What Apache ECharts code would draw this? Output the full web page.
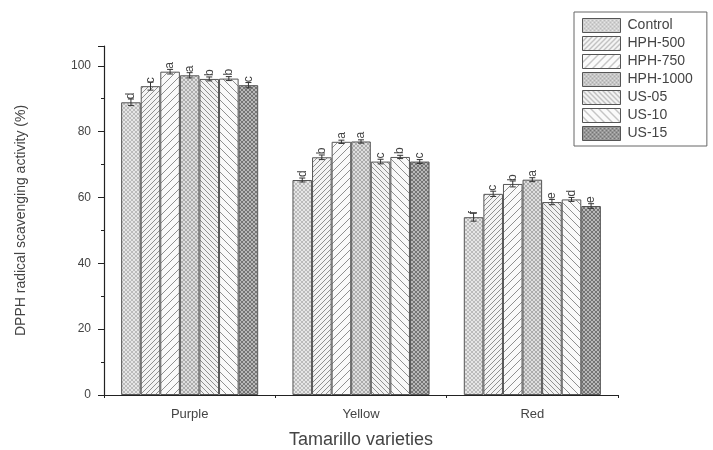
<!DOCTYPE html>
<html>
<head>
<meta charset="utf-8">
<script src="https://cdn.jsdelivr.net/npm/echarts@6/dist/echarts.min.js"></script>
<style>
  html, body { margin: 0; padding: 0; background: #fff; }
  #chart { width: 713px; height: 450px; }
</style>
</head>
<body>
<div id="chart"></div>
<script>
// Tamarillo varieties and treatments
const categories = ['Purple', 'Yellow', 'Red'];
const treatments = ['Control', 'HPH-500', 'HPH-750', 'HPH-1000', 'US-05', 'US-10', 'US-15'];

// DPPH radical scavenging activity (%) per treatment, in category order
const control = [88.9, 65.3, 54.0];
const hph500 = [93.8, 72.2, 61.1];
const hph750 = [98.2, 76.9, 64.1];
const hph1000 = [97.1, 77.0, 65.4];
const us05 = [96.0, 70.9, 58.6];
const us10 = [96.1, 72.3, 59.4];
const us15 = [94.1, 70.9, 57.4];

// standard deviations
const errControl = [1.0, 0.6, 1.2];
const errHph500 = [1.2, 0.7, 0.8];
const errHph750 = [0.7, 0.5, 0.9];
const errHph1000 = [0.8, 0.5, 0.6];
const errUs05 = [0.6, 0.7, 0.8];
const errUs10 = [0.6, 0.5, 0.6];
const errUs15 = [0.8, 0.6, 0.7];

// significance letters
const lettersControl = ['d', 'd', 'f'];
const lettersHph500 = ['c', 'b', 'c'];
const lettersHph750 = ['a', 'a', 'b'];
const lettersHph1000 = ['a', 'a', 'a'];
const lettersUs05 = ['b', 'c', 'e'];
const lettersUs10 = ['b', 'b', 'd'];
const lettersUs15 = ['c', 'c', 'e'];

const yTicks = [0, 20, 40, 60, 80, 100];

const values = [control, hph500, hph750, hph1000, us05, us10, us15];
const errors = [errControl, errHph500, errHph750, errHph1000, errUs05, errUs10, errUs15];
const letters = [lettersControl, lettersHph500, lettersHph750, lettersHph1000, lettersUs05, lettersUs10, lettersUs15];

// hatch fills
function makePattern(kind) {
  const c = document.createElement('canvas');
  const s = kind.size;
  c.width = s; c.height = s;
  const g = c.getContext('2d');
  g.fillStyle = kind.bg;
  g.fillRect(0, 0, s, s);
  g.strokeStyle = kind.fg;
  g.lineWidth = kind.lw;
  const drawDiag = (dir) => {
    g.beginPath();
    for (let k = -1; k <= 1; k++) {
      if (dir > 0) { // "/"
        g.moveTo(k * s, s); g.lineTo(k * s + s, 0);
      } else {      // "\"
        g.moveTo(k * s, 0); g.lineTo(k * s + s, s);
      }
    }
    g.stroke();
  };
  if (kind.type === 'fwd') drawDiag(1);
  if (kind.type === 'back') drawDiag(-1);
  if (kind.type === 'cross') { drawDiag(1); drawDiag(-1); }
  return { image: c, repeat: 'repeat' };
}

const patterns = [
  makePattern({ type: 'cross', size: 4, bg: '#e6e6e6', fg: '#b0b0b0', lw: 0.8 }),
  makePattern({ type: 'fwd', size: 5, bg: '#f4f4f4', fg: '#909090', lw: 1 }),
  makePattern({ type: 'fwd', size: 8, bg: '#fafafa', fg: '#909090', lw: 1 }),
  makePattern({ type: 'cross', size: 4, bg: '#dedede', fg: '#a0a0a0', lw: 0.8 }),
  makePattern({ type: 'back', size: 5, bg: '#f2f2f2', fg: '#909090', lw: 1 }),
  makePattern({ type: 'back', size: 8, bg: '#fafafa', fg: '#909090', lw: 1 }),
  makePattern({ type: 'cross', size: 4, bg: '#b8b8b8', fg: '#747474', lw: 1 })
];

const FONT = 'Liberation Sans, Arial, sans-serif';
const nSeries = treatments.length;
const groupFrac = 0.8;

const series = [];
treatments.forEach((name, i) => {
  series.push({
    name: name,
    type: 'bar',
    barGap: '0%',
    barCategoryGap: '20%',
    data: values[i],
    itemStyle: { color: patterns[i], borderColor: '#555', borderWidth: 1 },
    label: {
      show: true,
      position: 'top',
      distance: 3,
      rotate: 90,
      align: 'left',
      verticalAlign: 'middle',
      color: '#444',
      fontFamily: FONT,
      fontSize: 12,
      formatter: (p) => letters[i][p.dataIndex]
    },
    z: 2
  });
});

// error bars drawn at the centre of each bar slot
treatments.forEach((name, i) => {
  series.push({
    type: 'custom',
    name: name + ' error',
    silent: true,
    z: 3,
    data: values[i].map((v, j) => [j, v, errors[i][j]]),
    renderItem: function (params, api) {
      const j = api.value(0);
      const v = api.value(1);
      const e = api.value(2);
      const band = api.size([1, 0])[0];
      const base = api.coord([j, v]);
      const barW = band * groupFrac / nSeries;
      const x = base[0] - band * groupFrac / 2 + (i + 0.5) * barW;
      const top = api.coord([j, v + e])[1];
      const bot = api.coord([j, v - e])[1];
      const cap = 3;
      const style = { stroke: '#333', lineWidth: 1 };
      return {
        type: 'group',
        children: [
          { type: 'line', shape: { x1: x, y1: top, x2: x, y2: bot }, style: style },
          { type: 'line', shape: { x1: x - cap, y1: top, x2: x + cap, y2: top }, style: style },
          { type: 'line', shape: { x1: x - cap, y1: bot, x2: x + cap, y2: bot }, style: style }
        ]
      };
    }
  });
});

const chart = echarts.init(document.getElementById('chart'), null, { renderer: 'canvas' });
chart.setOption({
  animation: false,
  backgroundColor: '#fff',
  textStyle: { fontFamily: FONT },
  grid: { left: 104, right: 95, top: 46, bottom: 55, containLabel: false, outerBoundsMode: 'none' },
  legend: {
    data: treatments,
    icon: 'rect',
    orient: 'vertical',
    left: 574,
    top: 12,
    itemWidth: 38,
    itemHeight: 14,
    itemGap: 3,
    padding: [6, 14, 5, 8],
    borderColor: '#666',
    borderWidth: 1,
    textStyle: { color: '#444', fontSize: 14, fontFamily: FONT, padding: [0, 0, 0, 2] },
    itemStyle: { borderColor: '#555', borderWidth: 1 }
  },
  xAxis: [
    {
      type: 'category',
      data: categories,
      name: 'Tamarillo varieties',
      nameLocation: 'middle',
      nameGap: 36,
      nameTextStyle: { fontSize: 18, color: '#444', fontFamily: FONT },
      axisLine: { lineStyle: { color: '#222', width: 1.2 } },
      axisTick: { alignWithLabel: true, length: 6, lineStyle: { color: '#222' } },
      axisLabel: { color: '#444', fontSize: 13, margin: 13, fontFamily: FONT }
    },
    {
      type: 'category',
      data: categories,
      position: 'bottom',
      axisLine: { show: false },
      axisTick: { show: true, length: 3, lineStyle: { color: '#222' } },
      axisLabel: { show: false }
    }
  ],
  yAxis: {
    type: 'value',
    min: 0,
    max: 106,
    interval: 20,
    name: 'DPPH radical scavenging activity (%)',
    nameLocation: 'middle',
    nameGap: 76,
    nameTextStyle: { fontSize: 14, color: '#444', fontFamily: FONT },
    axisLine: { show: true, lineStyle: { color: '#222', width: 1.2 } },
    axisTick: { show: true, length: 6, lineStyle: { color: '#222' } },
    minorTick: { show: true, splitNumber: 2, length: 3, lineStyle: { color: '#222' } },
    splitLine: { show: false },
    axisLabel: {
      color: '#444',
      fontSize: 12,
      margin: 13,
      fontFamily: FONT,
      formatter: (v) => (yTicks.indexOf(v) >= 0 ? String(v) : '')
    }
  },
  series: series
});
</script>
</body>
</html>
